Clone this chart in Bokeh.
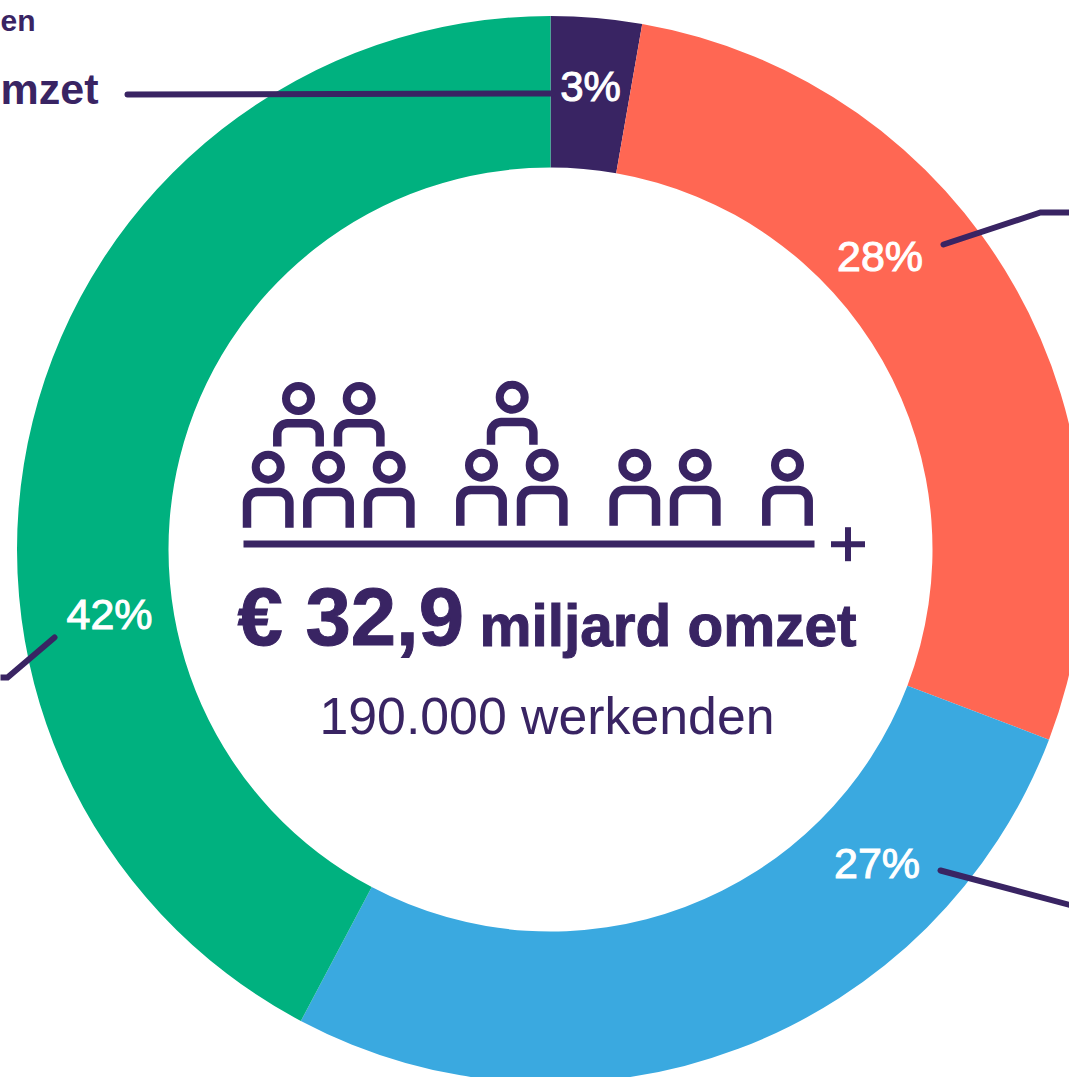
from bokeh.plotting import figure
from bokeh.models import Range1d
from bokeh.core.properties import value
from bokeh.embed import file_html
from bokeh.resources import INLINE
import math

# ---- data (percent of turnover, clockwise from 12 o'clock)
segment_values = [2.75, 28.05, 26.95, 42.25]
segment_labels = ["3%", "28%", "27%", "42%"]
segment_colors = ["#392463", "#FF6753", "#3AA9E0", "#00B17F"]
total_title = "€ 32,9"
total_unit = "miljard omzet"
workers_label = "190.000 werkenden"

PURPLE = "#392463"
W, H = 1069, 1077
def Y(py):
    return 1077 - py

p = figure(width=W, height=H, output_backend="svg", toolbar_location=None,
           x_range=Range1d(0, 1069), y_range=Range1d(0, 1077),
           min_border=0, outline_line_color=None, background_fill_color="white",
           border_fill_color="white")
p.axis.visible = False
p.grid.visible = False

CX, CY = 550, 549
R_OUT, R_IN = 533.5, 382
cum = 0.0
for v, c in zip(segment_values, segment_colors):
    a0 = math.pi / 2 - cum / 100 * 2 * math.pi
    cum += v
    a1 = math.pi / 2 - cum / 100 * 2 * math.pi
    p.annular_wedge(x=[CX], y=[Y(CY)], inner_radius=R_IN, outer_radius=R_OUT,
                    start_angle=[a1], end_angle=[a0], fill_color=c, line_color=None)

# leaders
leaders = [
    ([127, 552], [94, 93]),
    ([943, 1040, 1075], [244, 212, 212]),
    ([940, 1075], [870, 906]),
    ([54, 7, 0], [637, 677, 677]),
]
for xs, ys in leaders:
    p.line(xs, [Y(y) for y in ys], line_color=PURPLE, line_width=6,
           line_cap="round", line_join="miter")

FIX = 0.38
def txt(x, y, s, size, color=PURPLE, weight="bold", align="left", font="Liberation Sans", outline=None):
    p.text(x=[x], y=[Y(y - FIX * size)], text=[s], text_font=value(font), text_font_size=f"{size}px",
           text_font_style=weight, text_color=color, text_align=align,
           text_outline_color=outline, text_baseline="alphabetic")

# percent labels
txt(590, 102, segment_labels[0], 42, "white", weight="normal", align="center", outline="white")
txt(879.5, 272, segment_labels[1], 43, "white", weight="normal", align="center", outline="white")
txt(876.5, 879, segment_labels[2], 43, "white", weight="normal", align="center", outline="white")
txt(109, 630, segment_labels[3], 43, "white", weight="normal", align="center", outline="white")

# clipped side labels
txt(35, 31, "werkenden", 30, align="right")
txt(98, 105, "omzet", 43, align="right")

# people icons
def person(hx, hy, body_bottom):
    p.circle(x=[hx], y=[Y(hy)], radius=12.5, fill_color=None, line_color=PURPLE, line_width=8)
    half = 21.2
    top = hy + 24.8
    r = 10.5
    xs = [hx - half]; ys = [hy + body_bottom]
    for i in range(9):
        t = math.pi - i / 8 * math.pi / 2
        xs.append(hx - half + r + r * math.cos(t)); ys.append(top + r - r * math.sin(t))
    for i in range(9):
        t = math.pi / 2 - i / 8 * math.pi / 2
        xs.append(hx + half - r + r * math.cos(t)); ys.append(top + r - r * math.sin(t))
    xs.append(hx + half); ys.append(hy + body_bottom)
    p.line(xs, [Y(y) for y in ys], line_color=PURPLE, line_width=8.5, line_cap="butt", line_join="round")

for hx, hy in [(267.7, 466.7), (328, 466.7), (388.7, 466.7)]:
    person(hx, hy, 60.6)
for hx, hy in [(298, 398), (358.7, 398)]:
    person(hx, hy, 48)
person(511.7, 396.7, 47.5)
for hx, hy in [(481, 464.7), (541.7, 464.7), (634.3, 464.7), (694.7, 464.7), (787, 464.7)]:
    person(hx, hy, 60.6)

# fraction rule and plus
p.line([243, 814], [Y(543.5)] * 2, line_color=PURPLE, line_width=7, line_cap="butt")
p.line([830.5, 864.5], [Y(543.7)] * 2, line_color=PURPLE, line_width=6, line_cap="butt")
p.line([847.5, 847.5], [Y(526.7), Y(560.7)], line_color=PURPLE, line_width=6, line_cap="butt")

# centre text
txt(237, 647, total_title, 81.5, weight="bold", outline=PURPLE)
txt(479, 647, total_unit, 58.5, weight="bold", outline=PURPLE)
txt(319, 735.5, workers_label, 51.8, weight="normal")

open("out.html", "w").write(file_html(p, INLINE))
